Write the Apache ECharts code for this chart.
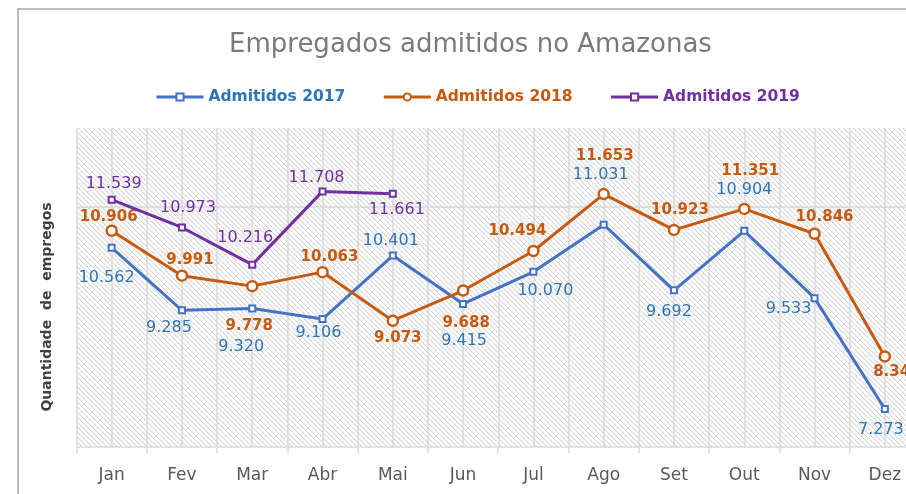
<!DOCTYPE html>
<html>
<head>
<meta charset="utf-8">
<script src="https://cdn.jsdelivr.net/npm/echarts@6/dist/echarts.min.js"></script>
<style>
  html, body { margin: 0; padding: 0; background: #fff; overflow: hidden; }
  /* the original chart runs past the right edge of the picture */
  #chart { width: 930px; height: 494px; }
</style>
</head>
<body>
<div id="chart"></div>
<script>
// data
var months = ['Jan', 'Fev', 'Mar', 'Abr', 'Mai', 'Jun', 'Jul', 'Ago', 'Set', 'Out', 'Nov', 'Dez'];
var seriesNames = ['Admitidos 2017', 'Admitidos 2018', 'Admitidos 2019'];
var admitidos2017 = [10562, 9285, 9320, 9106, 10401, 9415, 10070, 11031, 9692, 10904, 9533, 7273];
var admitidos2018 = [10906, 9991, 9778, 10063, 9073, 9688, 10494, 11653, 10923, 11351, 10846, 8345];
var admitidos2019 = [11539, 10973, 10216, 11708, 11661];
var yMin = 6500, yMax = 13000, gridValue = 11400;

// label placement (offset from the marker), layout only
var offsets2017 = [[-5, 30], [-13, 18], [-11, 38], [-4, 14], [-2, -15], [1, 37], [12, 19], [-3, -50], [-5, 21], [0, -41], [-26, 11], [-4, 21]];
var offsets2018 = [[-3, -14], [8, -16], [-3, 40], [7, -15], [5, 17], [3, 33], [-16, -20], [1, -38], [6, -20], [6, -38], [10, -17], [12, 16]];
var offsets2019 = [[2, -16], [6, -20], [-7, -27], [-6, -14], [4, 16]];

var blue = '#4472c4', blueText = '#2e75b6';
var orange = '#c55a11';
var purple = '#7030a0';
var font = 'DejaVu Sans';

function fmt(v) {
  var s = String(v % 1000);
  while (s.length < 3) s = '0' + s;
  return Math.floor(v / 1000) + '.' + s;
}

function withOffsets(values, offs) {
  return values.map(function (v, i) {
    return { value: v, label: { offset: offs[i] } };
  });
}

// diagonal hatch for the plot background
var hatch = document.createElement('canvas');
hatch.width = 5; hatch.height = 5;
(function () {
  var c = hatch.getContext('2d');
  c.fillStyle = '#ffffff';
  c.fillRect(0, 0, 5, 5);
  for (var i = 0; i < 5; i++) {
    c.fillStyle = '#d6d6d6';
    c.fillRect(i, i, 1, 1);
    c.fillStyle = '#f0f0f0';
    c.fillRect((i + 1) % 5, i, 1, 1);
  }
})();

var myChart = echarts.init(document.getElementById('chart'));

var option = {
  animation: false,
  backgroundColor: '#fff',
  title: {
    text: 'Empregados admitidos no Amazonas',
    left: 229,
    top: 32,
    padding: 0,
    textStyle: { fontFamily: font, fontSize: 26, fontWeight: 'normal', color: '#7a7a7a' }
  },
  legend: {
    left: 155,
    top: 89,
    padding: 0,
    itemWidth: 47,
    itemHeight: 9,
    itemGap: 37,
    lineStyle: { width: 3 },
    textStyle: { fontFamily: font, fontSize: 15.5, fontWeight: 'bold' },
    data: [
      { name: seriesNames[0], textStyle: { color: blueText } },
      { name: seriesNames[1], textStyle: { color: orange } },
      { name: seriesNames[2], textStyle: { color: purple } }
    ]
  },
  graphic: [
    {
      type: 'rect', z: -10,
      shape: { x: 18, y: 9, width: 1000, height: 600 },
      style: { fill: 'none', stroke: '#a6a6a6', lineWidth: 1.5 }
    },
    {
      type: 'text',
      x: 47, y: 307, rotation: Math.PI / 2,
      style: {
        text: 'Quantidade  de  empregos',
        fontFamily: font, fontSize: 14, fontWeight: 'bold', fill: '#404040',
        textAlign: 'center', textVerticalAlign: 'middle'
      }
    }
  ],
  grid: {
    left: 76.5, width: 843.5, top: 128, bottom: 47,
    show: true,
    borderWidth: 0,
    backgroundColor: { image: hatch, repeat: 'repeat' }
  },
  xAxis: [
    {
      type: 'category',
      data: months,
      boundaryGap: true,
      axisLine: { lineStyle: { color: '#d9d9d9', width: 1.5 } },
      axisTick: { show: true, length: 6, lineStyle: { color: '#d9d9d9', width: 1.5 } },
      axisLabel: { margin: 20, fontFamily: font, fontSize: 17, color: '#595959' },
      splitLine: { show: false }
    },
    {
      type: 'value',
      min: 0, max: 24, interval: 1,
      show: true,
      position: 'bottom',
      axisLine: { show: false },
      axisTick: { show: false },
      axisLabel: { show: false },
      splitLine: { show: true, lineStyle: { color: '#d9d9d9', width: 1.5 } }
    }
  ],
  yAxis: {
    type: 'value',
    min: yMin, max: yMax,
    axisLine: { show: false },
    axisTick: { show: false },
    axisLabel: { show: false },
    splitLine: { show: false }
  },
  series: [
    {
      name: seriesNames[0],
      type: 'line',
      data: withOffsets(admitidos2017, offsets2017),
      symbol: 'rect', symbolSize: 6,
      lineStyle: { color: blue, width: 3 },
      itemStyle: { color: '#fff', borderColor: blue, borderWidth: 2 },
      label: {
        show: true, position: 'inside',
        formatter: function (p) { return fmt(p.value); },
        fontFamily: font, fontSize: 16, color: blueText
      },
      markLine: {
        silent: true, symbol: 'none', z: 0,
        label: { show: false },
        lineStyle: { color: '#d9d9d9', width: 1.5, type: 'solid' },
        data: [{ yAxis: gridValue }]
      },
      z: 3
    },
    {
      name: seriesNames[1],
      type: 'line',
      data: withOffsets(admitidos2018, offsets2018),
      symbol: 'circle', symbolSize: 10,
      lineStyle: { color: orange, width: 3 },
      itemStyle: { color: '#fff', borderColor: orange, borderWidth: 2.5 },
      label: {
        show: true, position: 'inside',
        formatter: function (p) { return fmt(p.value); },
        fontFamily: font, fontSize: 15, fontWeight: 'bold', color: orange
      },
      z: 4
    },
    {
      name: seriesNames[2],
      type: 'line',
      data: withOffsets(admitidos2019, offsets2019),
      symbol: 'rect', symbolSize: 6,
      lineStyle: { color: purple, width: 3 },
      itemStyle: { color: '#fff', borderColor: purple, borderWidth: 2 },
      label: {
        show: true, position: 'inside',
        formatter: function (p) { return fmt(p.value); },
        fontFamily: font, fontSize: 16, color: purple
      },
      z: 5
    }
  ]
};

myChart.setOption(option);
</script>
</body>
</html>
